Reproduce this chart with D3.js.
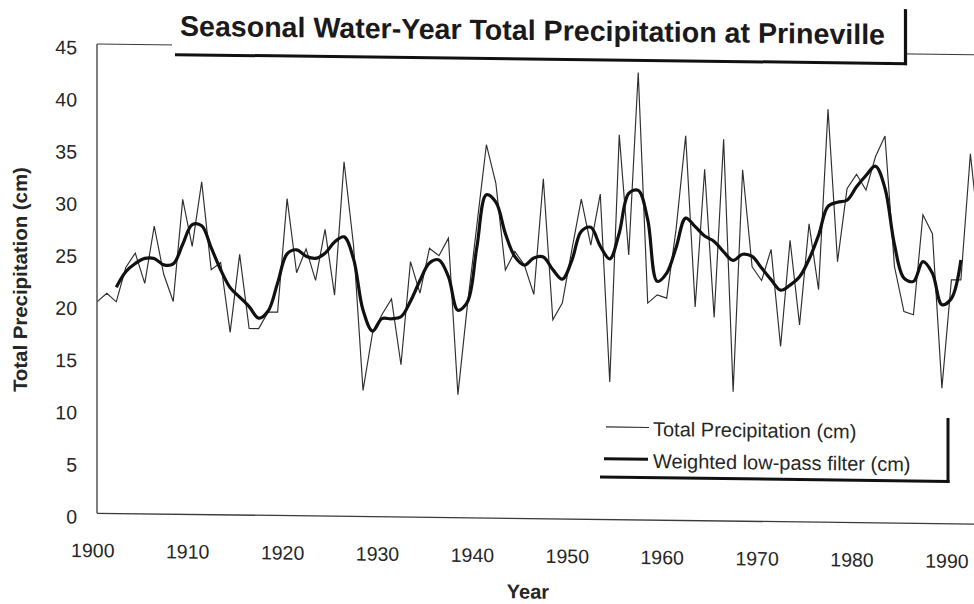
<!DOCTYPE html>
<html>
<head>
<meta charset="utf-8">
<script src="https://cdn.jsdelivr.net/npm/d3@7"></script>
<style>
  html, body { margin: 0; padding: 0; background: #fff; }
  svg { display: block; font-family: "Liberation Sans", Arial, Helvetica, sans-serif; }
</style>
</head>
<body>
<svg id="chart" width="974" height="604"></svg>
<script>
// ---------------- data ----------------
const title = "Seasonal Water-Year Total Precipitation at Prineville";
const xTitle = "Year";
const yTitle = "Total Precipitation (cm)";
const seriesNames = ["Total Precipitation (cm)", "Weighted low-pass filter (cm)"];

const years = d3.range(1900, 1994);
const precip = [
  20.3, 21.1, 20.3, 23.6, 25.0, 22.1, 27.6, 23.0, 20.4, 30.2,
  25.7, 31.9, 23.5, 24.2, 17.5, 25.0, 17.9, 17.9, 19.5, 19.5,
  30.4, 23.3, 25.6, 22.6, 27.5, 21.2, 34.0, 26.0, 12.1, 17.6,
  19.4, 20.9, 14.6, 24.5, 21.5, 25.8, 25.1, 26.8, 11.8, 20.4,
  28.1, 35.8, 32.1, 23.8, 25.6, 24.3, 21.5, 32.6, 19.1, 20.7,
  25.8, 30.7, 26.3, 31.2, 13.2, 36.9, 25.4, 42.9, 20.8, 21.6,
  21.3, 28.0, 36.9, 20.5, 33.7, 19.5, 36.6, 12.4, 33.7, 24.4,
  23.1, 26.1, 16.8, 27.0, 18.9, 28.6, 22.3, 39.6, 25.0, 32.0,
  33.4, 31.9, 35.1, 37.1, 24.6, 20.3, 20.0, 29.6, 27.8, 13.0,
  23.4, 23.4, 35.5, 27.0
];

const filterYears = d3.range(1902, 1992);
const filtered = [
  21.7, 23.2, 24.0, 24.5, 24.5, 23.9, 24.0, 25.9,
  27.8, 27.7, 25.6, 23.5, 21.8, 20.9, 20.0, 18.9, 19.6, 22.3,
  25.1, 25.5, 24.9, 24.7, 25.2, 26.3, 26.8, 24.7, 19.8, 17.8,
  19.0, 19.0, 19.2, 20.7, 22.7, 24.4, 24.7, 23.1, 19.9, 20.7,
  26.0, 31.0, 30.3, 27.3, 25.1, 24.3, 25.0, 25.1, 23.9, 23.0,
  24.8, 27.6, 28.0, 26.2, 25.0, 27.5, 31.3, 31.6, 28.8, 22.9,
  23.7, 26.2, 29.0, 28.2, 27.3, 26.8, 25.8, 25.0, 25.6, 25.4,
  24.3, 23.2, 22.2, 22.7, 23.5, 25.2, 27.5, 30.3, 30.7, 30.9,
  32.2, 33.3, 34.2, 32.1, 26.7, 23.5, 23.2, 25.1, 24.0, 21.0,
  21.6, 25.3
];

const xTicks = d3.range(1900, 2000, 10);
const yTicks = d3.range(0, 50, 5);

// ---------------- layout ----------------
const svg = d3.select("#chart");
const skewDeg = Math.atan(0.0123) * 180 / Math.PI;
const g = svg.append("g").attr("transform", `skewY(${skewDeg})`);

const x = d3.scaleLinear().domain([1900, 1990]).range([97.3, 951.4]);
const y = d3.scaleLinear().domain([0, 45]).range([512.1, 42.8]);

const ink = "#262626";

// frame
g.append("line").attr("x1", 97).attr("x2", 97).attr("y1", y(45)).attr("y2", y(0))
  .attr("stroke", "#3a3a3a").attr("stroke-width", 1.3);
g.append("line").attr("x1", 97).attr("x2", 990).attr("y1", y(0)).attr("y2", y(0))
  .attr("stroke", "#3a3a3a").attr("stroke-width", 1.3);
g.append("line").attr("x1", 97).attr("x2", 990).attr("y1", y(45)).attr("y2", y(45))
  .attr("stroke", "#3a3a3a").attr("stroke-width", 1.1);

// y axis labels
const yAxis = d3.axisLeft(y).tickValues(yTicks).tickSize(0).tickPadding(20);
const yG = g.append("g").attr("transform", "translate(97,0)").call(yAxis);
yG.select(".domain").remove();
yG.selectAll("text").attr("font-size", 19.5).attr("fill", ink)
  .attr("font-family", "Liberation Sans, Arial, sans-serif").attr("dy", "0.52em");

// x axis labels
const xAxis = d3.axisBottom(x).tickValues(xTicks.filter(d => d <= 1990)).tickFormat(d3.format("d")).tickSize(0).tickPadding(0);
const xG = g.append("g").attr("transform", `translate(-5,${y(0)})`).call(xAxis);
xG.select(".domain").remove();
xG.selectAll("text").attr("font-size", 19.5).attr("fill", ink)
  .attr("font-family", "Liberation Sans, Arial, sans-serif")
  .attr("dy", null).attr("y", 44);

// axis titles
g.append("text").attr("x", 528).attr("y", 592).attr("text-anchor", "middle")
  .attr("font-size", 20).attr("font-weight", "bold").attr("fill", ink).text(xTitle);
g.append("text").attr("transform", "translate(26.5,279.3) rotate(-90)").attr("text-anchor", "middle")
  .attr("font-size", 19.5).attr("font-weight", "bold").attr("fill", ink)
  .attr("textLength", 225).attr("lengthAdjust", "spacingAndGlyphs").text(yTitle);

// data lines
const rawLine = d3.line().x((d, i) => x(years[i])).y(d => y(d));
g.append("path").datum(precip).attr("d", rawLine)
  .attr("fill", "none").attr("stroke", "#2e2e2e").attr("stroke-width", 1.15).attr("stroke-linejoin", "miter");

const smoothLine = d3.line().x((d, i) => x(filterYears[i])).y(d => y(d)).curve(d3.curveCatmullRom.alpha(0.5));
g.append("path").datum(filtered).attr("d", smoothLine)
  .attr("fill", "none").attr("stroke", "#111").attr("stroke-width", 3.2).attr("stroke-linejoin", "round");

// title box (shadow style)
g.append("rect").attr("x", 172).attr("y", -20).attr("width", 732).attr("height", 72).attr("fill", "#fff");
g.append("line").attr("x1", 175).attr("x2", 907).attr("y1", 52.5).attr("y2", 52.5)
  .attr("stroke", "#111").attr("stroke-width", 3);
g.append("line").attr("x1", 905.5).attr("x2", 905.5).attr("y1", -2).attr("y2", 54)
  .attr("stroke", "#111").attr("stroke-width", 3.2);
g.append("text").attr("x", 180).attr("y", 33.5).attr("font-size", 28.4).attr("font-weight", "bold")
  .attr("fill", "#1a1a1a").attr("textLength", 705).attr("lengthAdjust", "spacingAndGlyphs").text(title);

// legend (shadow style)
const leg = g.append("g");
leg.append("line").attr("x1", 600).attr("x2", 949.5).attr("y1", 469.7).attr("y2", 469.7)
  .attr("stroke", "#111").attr("stroke-width", 3);
leg.append("line").attr("x1", 948).attr("x2", 948).attr("y1", 406.3).attr("y2", 471)
  .attr("stroke", "#111").attr("stroke-width", 3);
leg.append("line").attr("x1", 606).attr("x2", 649).attr("y1", 419.5).attr("y2", 419.5)
  .attr("stroke", "#2e2e2e").attr("stroke-width", 1.2);
leg.append("line").attr("x1", 604).attr("x2", 648).attr("y1", 451.3).attr("y2", 451.3)
  .attr("stroke", "#111").attr("stroke-width", 3.2);
leg.append("text").attr("x", 653).attr("y", 428).attr("font-size", 20).attr("fill", ink).text(seriesNames[0]);
leg.append("text").attr("x", 653).attr("y", 460).attr("font-size", 20).attr("fill", ink).text(seriesNames[1]);
</script>
</body>
</html>
